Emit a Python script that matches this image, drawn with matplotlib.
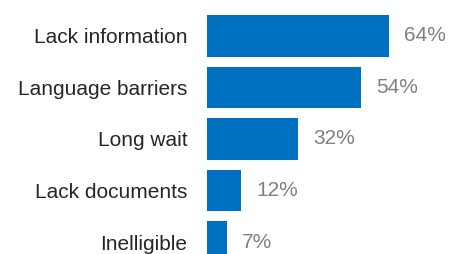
import matplotlib
matplotlib.use("Agg")
import matplotlib.pyplot as plt

categories = ["Lack information", "Language barriers", "Long wait", "Lack documents", "Inelligible"]
values = [64, 54, 32, 12, 7]
value_labels = ["64%", "54%", "32%", "12%", "7%"]

plt.rcParams["font.family"] = ["Liberation Sans", "DejaVu Sans"]

W, H, DPI = 464, 254, 100
fig = plt.figure(figsize=(W / DPI, H / DPI), dpi=DPI)
left = 207 / W
ax = fig.add_axes([left, 0, 1 - left, 1])

pos = list(range(len(categories)))
ax.barh(pos, values, height=0.8, color="#0070C0")

# pixel scale: ~2.844 px per percent
ax.set_xlim(0, (W - 207) / 2.844)
ax.set_ylim(4.233, -0.699)

for y, v, lab in zip(pos, values, value_labels):
    ax.annotate(lab, (v, y), xytext=(11, 0), textcoords="offset points",
                va="center", ha="left", fontsize=15, color="#808080")

ax.set_yticks(pos)
ax.set_yticklabels(categories, fontsize=15, color="#262626")
ax.tick_params(axis="y", length=0, pad=14)
ax.set_xticks([])
for s in ax.spines.values():
    s.set_visible(False)

fig.savefig("out.png", dpi=DPI)
